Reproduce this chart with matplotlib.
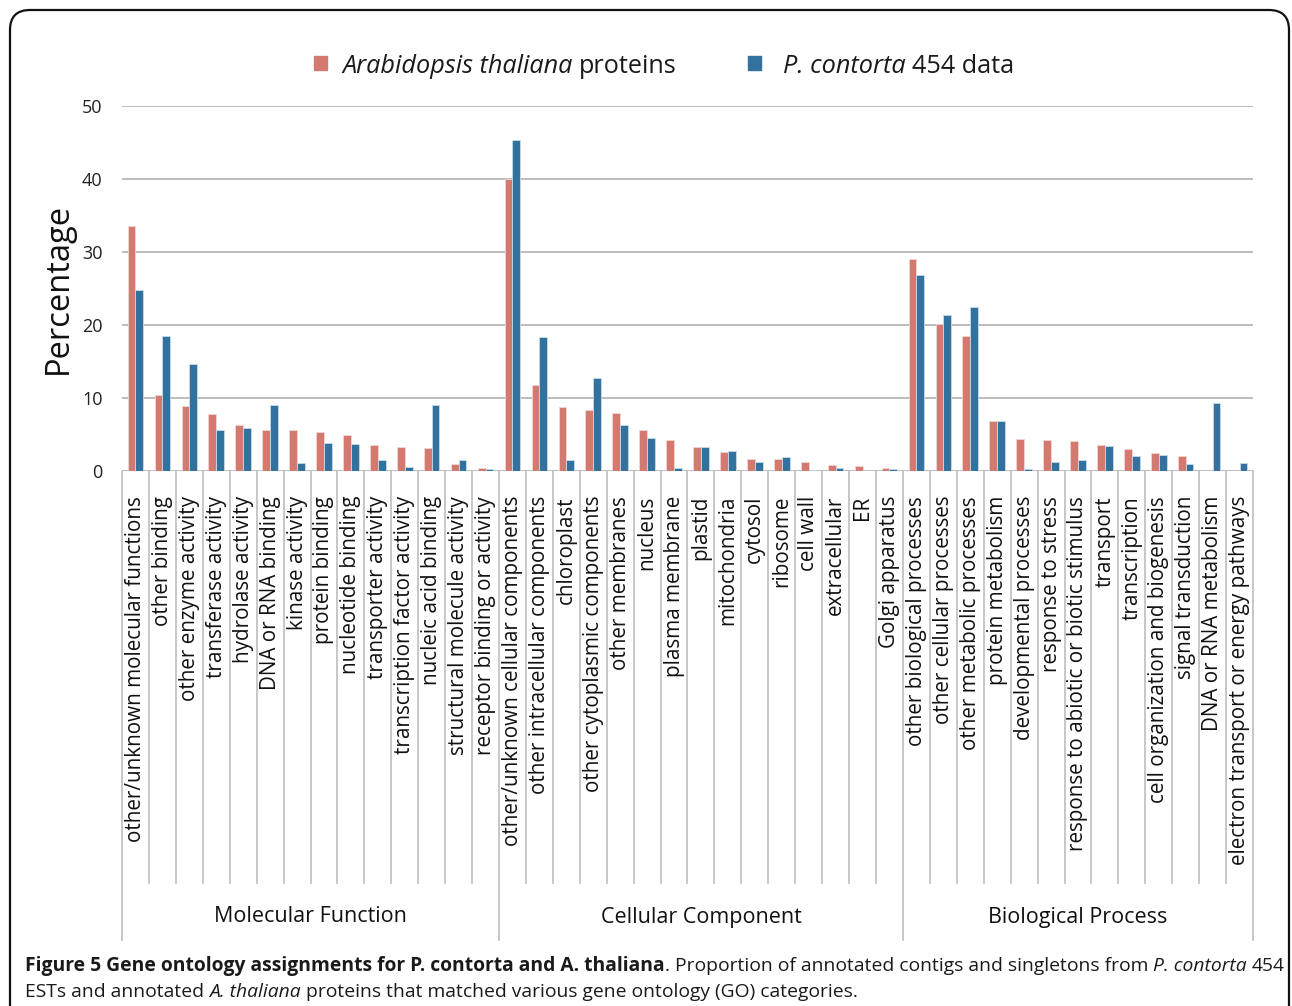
"""
GO assignments — P. contorta 454 ESTs vs A. thaliana proteins
Grouped bar chart (Figure 5 style)
"""

import numpy as np
import matplotlib
matplotlib.use("Agg")
import matplotlib.pyplot as plt
from matplotlib import font_manager
from matplotlib.patches import FancyBboxPatch, Rectangle
from matplotlib.transforms import blended_transform_factory

# ── data ────────────────────────────────────────────────────────────────
MF_LABELS = [
    "other/unknown molecular functions", "other binding", "other enzyme activity",
    "transferase activity", "hydrolase activity", "DNA or RNA binding",
    "kinase activity", "protein binding", "nucleotide binding",
    "transporter activity", "transcription factor activity",
    "nucleic acid binding", "structural molecule activity",
    "receptor binding or activity",
]
CC_LABELS = [
    "other/unknown cellular components", "other intracellular components",
    "chloroplast", "other cytoplasmic components", "other membranes",
    "nucleus", "plasma membrane", "plastid", "mitochondria", "cytosol",
    "ribosome", "cell wall", "extracellular", "ER", "Golgi apparatus",
]
BP_LABELS = [
    "other biological processes", "other cellular processes",
    "other metabolic processes", "protein metabolism",
    "developmental processes", "response to stress",
    "response to abiotic or biotic stimulus", "transport", "transcription",
    "cell organization and biogenesis", "signal transduction",
    "DNA or RNA metabolism", "electron transport or energy pathways",
]
GROUP_NAMES = ["Molecular Function", "Cellular Component", "Biological Process"]

# % of A. thaliana proteins
ATH_MF = [33.6, 10.4, 8.9, 7.8, 6.3, 5.6, 5.6, 5.3, 4.9, 3.6, 3.3, 3.2, 1.0, 0.45]
ATH_CC = [40.0, 11.8, 8.7, 8.4, 7.9, 5.6, 4.3, 3.3, 2.6, 1.7, 1.6, 1.3, 0.8, 0.7, 0.4]
ATH_BP = [29.1, 20.2, 18.5, 6.8, 4.4, 4.3, 4.1, 3.6, 3.0, 2.4, 2.0, 0.0, 0.0]

# % of P. contorta 454 contigs/singletons
PCO_MF = [24.8, 18.5, 14.6, 5.6, 5.9, 9.0, 1.05, 3.85, 3.65, 1.55, 0.5, 9.1, 1.5, 0.27]
PCO_CC = [45.3, 18.4, 1.5, 12.7, 6.35, 4.5, 0.45, 3.35, 2.75, 1.3, 1.9, 0.1, 0.45, 0.0, 0.23]
PCO_BP = [26.9, 21.4, 22.4, 6.8, 0.23, 1.2, 1.5, 3.4, 2.0, 2.25, 0.9, 9.35, 1.15]

RED  = "#D4796F"
BLUE = "#33729F"
GRID = "#BDBDBD"

W, H, DPI = 1292, 1006, 100


def pick_font(names):
    have = {f.name for f in font_manager.fontManager.ttflist}
    for n in names:
        if n in have:
            return n
    return "DejaVu Sans"


MAIN_FONT = pick_font(["Open Sans", "Noto Sans", "DejaVu Sans"])
CAP_FONT  = pick_font(["Liberation Sans Narrow", "Open Sans", "DejaVu Sans"])
plt.rcParams["font.family"] = MAIN_FONT


def text_width(fig, txt, **kw):
    r = fig.canvas.get_renderer()
    t = fig.text(0, 0, txt, **kw)
    w = t.get_window_extent(r).width
    t.remove()
    return w


def draw_runs(fig, x, y, runs, family, size):
    """runs: list of (text, weight, style, space_after). x, y in pixels."""
    sp = (text_width(fig, "x x", family=family, fontsize=size)
          - text_width(fig, "xx", family=family, fontsize=size))
    r = fig.canvas.get_renderer()
    for txt, weight, style, space in runs:
        t = fig.text(x / W, y / H, txt, family=family, fontsize=size,
                     fontweight=weight, fontstyle=style, color="#1a1a1a",
                     ha="left", va="baseline")
        x += t.get_window_extent(r).width + (sp if space else 0)
    return x


def fit_size(fig, runs, family, target_px, base=12):
    total = 0
    for txt, weight, style, space in runs:
        total += text_width(fig, txt + (" " if space else ""), family=family,
                            fontsize=base, fontweight=weight, fontstyle=style)
    return base * target_px / total


def main():
    labels = MF_LABELS + CC_LABELS + BP_LABELS
    ath = np.array(ATH_MF + ATH_CC + ATH_BP)
    pco = np.array(PCO_MF + PCO_CC + PCO_BP)
    n = len(labels)
    x = np.arange(n)

    fig = plt.figure(figsize=(W / DPI, H / DPI), dpi=DPI)
    ax = fig.add_axes([122 / W, 1 - 471 / H, (1253 - 122) / W, (471 - 106) / H])

    bw = 0.29
    ax.bar(x - bw / 2, ath, bw, color=RED, edgecolor="#f3d6d2", linewidth=0.6, zorder=3)
    ax.bar(x + bw / 2, pco, bw, color=BLUE, edgecolor="#c9dbe8", linewidth=0.6, zorder=3)

    ax.set_xlim(-0.5, n - 0.5)
    ax.set_ylim(0, 50)
    ax.set_yticks(range(0, 51, 10))
    ax.yaxis.grid(True, color=GRID, linewidth=1.4, zorder=0)
    ax.set_axisbelow(True)
    for s in ax.spines.values():
        s.set_visible(False)
    ax.tick_params(axis="y", length=0, pad=14, labelsize=13, labelcolor="#222222")
    ax.set_ylabel("Percentage", fontsize=23.5, labelpad=5, color="#111111")

    ax.set_xticks(x)
    ax.set_xticklabels(labels, rotation=90, fontsize=14.9, color="#111111")
    ax.tick_params(axis="x", length=0, pad=18)

    # separators under the axis
    trans = blended_transform_factory(ax.transData, ax.transAxes)
    short = -(883 - 471) / (471 - 106)
    long_ = -(940 - 471) / (471 - 106)
    bounds = [-0.5, len(MF_LABELS) - 0.5, len(MF_LABELS) + len(CC_LABELS) - 0.5, n - 0.5]
    for b in np.arange(-0.5, n, 1.0):
        y1 = long_ if any(abs(b - g) < 1e-6 for g in bounds) else short
        ax.plot([b, b], [0, y1], color=GRID, linewidth=1.2,
                transform=trans, clip_on=False)

    for name, lo, hi in zip(GROUP_NAMES, bounds[:-1], bounds[1:]):
        ax.text((lo + hi) / 2, -(917 - 471) / (471 - 106), name, transform=trans,
                ha="center", va="center", fontsize=15.5, color="#111111")

    # legend
    for sx, col in [(314, RED), (748, BLUE)]:
        fig.patches.append(Rectangle((sx / W, 1 - 70 / H), 13 / W, 14 / H,
                                     transform=fig.transFigure, color=col))
    leg1 = [("Arabidopsis thaliana", "normal", "italic", True),
            ("proteins", "normal", "normal", False)]
    leg2 = [("P. contorta", "normal", "italic", True),
            ("454 data", "normal", "normal", False)]
    lsize = fit_size(fig, leg1, MAIN_FONT, 676 - 342)
    draw_runs(fig, 342, H - 73, leg1, MAIN_FONT, lsize)
    draw_runs(fig, 783, H - 73, leg2, MAIN_FONT, lsize)

    # caption
    cap1 = [("Figure 5 Gene ontology assignments for P. contorta and A. thaliana", "bold", "normal", False),
            (". Proportion of annotated contigs and singletons from", "normal", "normal", True),
            ("P. contorta", "normal", "italic", True),
            ("454", "normal", "normal", False)]
    cap2 = [("ESTs and annotated", "normal", "normal", True),
            ("A. thaliana", "normal", "italic", True),
            ("proteins that matched various gene ontology (GO) categories.", "normal", "normal", False)]
    csize = fit_size(fig, cap1, CAP_FONT, 1276 - 25)
    draw_runs(fig, 25, H - 971, cap1, CAP_FONT, csize)
    draw_runs(fig, 25, H - 997, cap2, CAP_FONT, csize)

    # rounded frame, open at the bottom
    frame = FancyBboxPatch((0.10, -0.40), 12.79, 10.36,
                           boxstyle="round,pad=0,rounding_size=0.2",
                           transform=fig.dpi_scale_trans, fill=False,
                           edgecolor="#111111", linewidth=1.6)
    fig.patches.append(frame)

    fig.savefig("out.png", dpi=DPI)
    plt.close(fig)


if __name__ == "__main__":
    main()
